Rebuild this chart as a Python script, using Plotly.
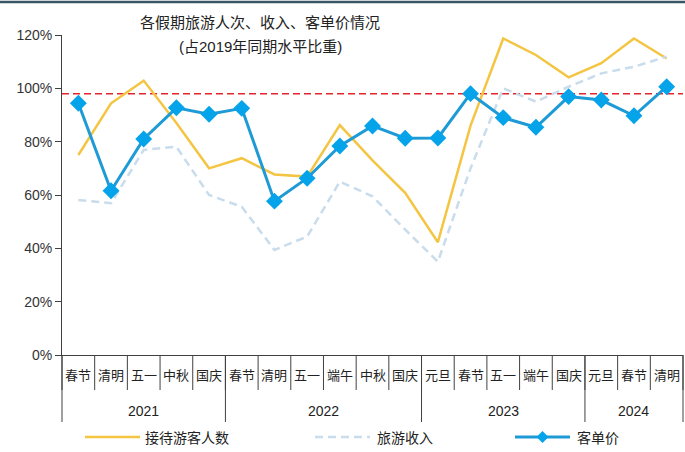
import plotly.graph_objects as go

# ---------------- data ----------------
categories = ["春节", "清明", "五一", "中秋", "国庆",
              "春节", "清明", "五一", "端午", "中秋", "国庆",
              "元旦", "春节", "五一", "端午", "国庆",
              "元旦", "春节", "清明"]
year_labels = ["2021", "2022", "2023", "2024"]
year_counts = [5, 6, 5, 3]

visitors = [75.0, 94.4, 102.9, 87.0, 70.0,
            73.8, 67.7, 66.9, 86.2, 73.0, 60.8,
            42.3, 86.0, 118.7, 112.5, 104.1,
            109.4, 118.7, 111.2]
revenue = [58.1, 56.9, 76.9, 78.1, 60.0,
           55.6, 39.4, 44.4, 65.0, 59.5, 47.0,
           35.0, 70.0, 100.0, 95.0, 100.6,
           105.6, 108.1, 111.9]
per_capita = [94.4, 61.6, 81.0, 92.7, 90.3,
              92.5, 57.7, 66.3, 78.4, 85.9, 81.3,
              81.4, 98.0, 89.0, 85.4, 96.9,
              95.6, 89.7, 100.6]
ref_level = 98.0

series_names = ["接待游客人数", "旅游收入", "客单价"]
title_lines = ["各假期旅游人次、收入、客单价情况", "(占2019年同期水平比重)"]
y_ticks = [0, 20, 40, 60, 80, 100, 120]
y_tick_text = [f"{v}%" for v in y_ticks]

# ---------------- layout geometry ----------------
W, H = 685, 452
ML, MR, MT, MB = 62, 2, 35, 97
PW, PH = W - ML - MR, H - MT - MB
AXIS_Y = H - MB  # pixel row of x axis


def py(p):  # pixel row -> paper y
    return (AXIS_Y - p) / PH


def px(p):  # pixel column -> paper x
    return (p - ML) / PW


n = len(categories)
xs = list(range(n))
x_lo, x_hi = -0.5, n - 0.5


def xpaper(v):
    return (v - x_lo) / (x_hi - x_lo)


FONT = "Liberation Sans, Arial, Noto Sans CJK SC, sans-serif"
CJK = "Noto Sans CJK SC, sans-serif"
AX_COL = "#404040"
TXT = "#222222"

COL_VIS = "#F4C542"
COL_REV = "#C8DCEC"
COL_PC_LINE = "#1E9AD6"
COL_PC_MK = "#05A3EA"
DASH_REV = "8px,5px"

fig = go.Figure()
fig.add_trace(go.Scatter(
    x=xs, y=visitors, name=series_names[0], mode="lines",
    line=dict(color=COL_VIS, width=2.5), cliponaxis=False, showlegend=False))
fig.add_trace(go.Scatter(
    x=xs, y=revenue, name=series_names[1], mode="lines",
    line=dict(color=COL_REV, width=2.5, dash=DASH_REV), cliponaxis=False,
    showlegend=False))
fig.add_trace(go.Scatter(
    x=xs, y=per_capita, name=series_names[2], mode="lines+markers",
    line=dict(color=COL_PC_LINE, width=3),
    marker=dict(symbol="diamond", size=13, color=COL_PC_MK,
                line=dict(width=0)), cliponaxis=False, showlegend=False))

shapes = []
# reference line
shapes.append(dict(type="line", xref="paper", yref="y", x0=0, x1=1,
                   y0=ref_level, y1=ref_level, layer="below",
                   line=dict(color="#E2242C", width=1.5, dash="7px,4px")))
# inner category boundaries
for b in range(n + 1):
    xp = xpaper(b - 0.5)
    shapes.append(dict(type="line", xref="paper", yref="paper", x0=xp, x1=xp,
                       y0=0, y1=py(390), line=dict(color=AX_COL, width=1)))
# year dividers
acc = 0
bounds = [0]
for c in year_counts:
    acc += c
    bounds.append(acc)
for b in bounds:
    xp = xpaper(b - 0.5)
    shapes.append(dict(type="line", xref="paper", yref="paper", x0=xp, x1=xp,
                       y0=0, y1=py(422), line=dict(color=AX_COL, width=1)))
# top border of the page
shapes.append(dict(type="line", xref="paper", yref="paper",
                   x0=px(0), x1=px(W), y0=py(2), y1=py(2),
                   line=dict(color="#3A5664", width=2.5)))

annotations = []
for i, c in enumerate(categories):
    annotations.append(dict(x=i, xref="x", y=py(374), yref="paper",
                            text=c, showarrow=False, xanchor="center",
                            yanchor="middle",
                            font=dict(family=CJK, size=13, color=TXT)))
for k, yl in enumerate(year_labels):
    center = (bounds[k] + bounds[k + 1] - 1) / 2
    annotations.append(dict(x=center, xref="x", y=py(411), yref="paper",
                            text=yl, showarrow=False, xanchor="center",
                            yanchor="middle",
                            font=dict(family=FONT, size=14, color=TXT)))
annotations.append(dict(x=px(260), xref="paper", y=py(21), yref="paper",
                        text=title_lines[0], showarrow=False,
                        xanchor="center", yanchor="middle",
                        font=dict(family=CJK, size=15, color=TXT)))
annotations.append(dict(x=px(260), xref="paper", y=py(47), yref="paper",
                        text=title_lines[1], showarrow=False,
                        xanchor="center", yanchor="middle",
                        font=dict(family=FONT, size=15, color=TXT)))

# ---------------- legend (drawn by hand) ----------------
LEG_Y = 437
legend_items = [
    (series_names[0], 85, 140, 143, dict(color=COL_VIS, width=2.5)),
    (series_names[1], 315, 370, 375, dict(color=COL_REV, width=2.5, dash=DASH_REV)),
    (series_names[2], 515, 570, 575, dict(color=COL_PC_LINE, width=3)),
]
for name, l0, l1, tx, lstyle in legend_items:
    shapes.append(dict(type="line", xref="paper", yref="paper",
                       x0=px(l0), x1=px(l1), y0=py(LEG_Y), y1=py(LEG_Y),
                       line=lstyle))
    annotations.append(dict(x=px(tx), xref="paper", y=py(LEG_Y), yref="paper",
                            text=name, showarrow=False, xanchor="left",
                            yanchor="middle",
                            font=dict(family=CJK, size=14, color=TXT)))
# diamond marker in the 客单价 legend entry
cx, r = (515 + 570) / 2, 6
shapes.append(dict(type="path", xref="paper", yref="paper",
                   path=(f"M {px(cx - r)},{py(LEG_Y)} L {px(cx)},{py(LEG_Y - r)} "
                         f"L {px(cx + r)},{py(LEG_Y)} L {px(cx)},{py(LEG_Y + r)} Z"),
                   fillcolor=COL_PC_MK, line=dict(width=0)))

fig.update_layout(
    width=W, height=H,
    margin=dict(l=ML, r=MR, t=MT, b=MB, pad=0, autoexpand=False),
    paper_bgcolor="white", plot_bgcolor="white",
    showlegend=False,
    shapes=shapes, annotations=annotations,
    xaxis=dict(range=[x_lo, x_hi], showgrid=False, zeroline=False,
               showline=True, linecolor=AX_COL, linewidth=1,
               ticks="", showticklabels=False, fixedrange=True),
    yaxis=dict(range=[0, 120], tickmode="array", tickvals=y_ticks,
               ticktext=y_tick_text,
               showgrid=False, zeroline=False, showline=True,
               linecolor=AX_COL, linewidth=1, ticks="outside", ticklen=6,
               tickcolor=AX_COL,
               tickfont=dict(family=FONT, size=14, color="#333")),
)

fig.write_html("out.html")
